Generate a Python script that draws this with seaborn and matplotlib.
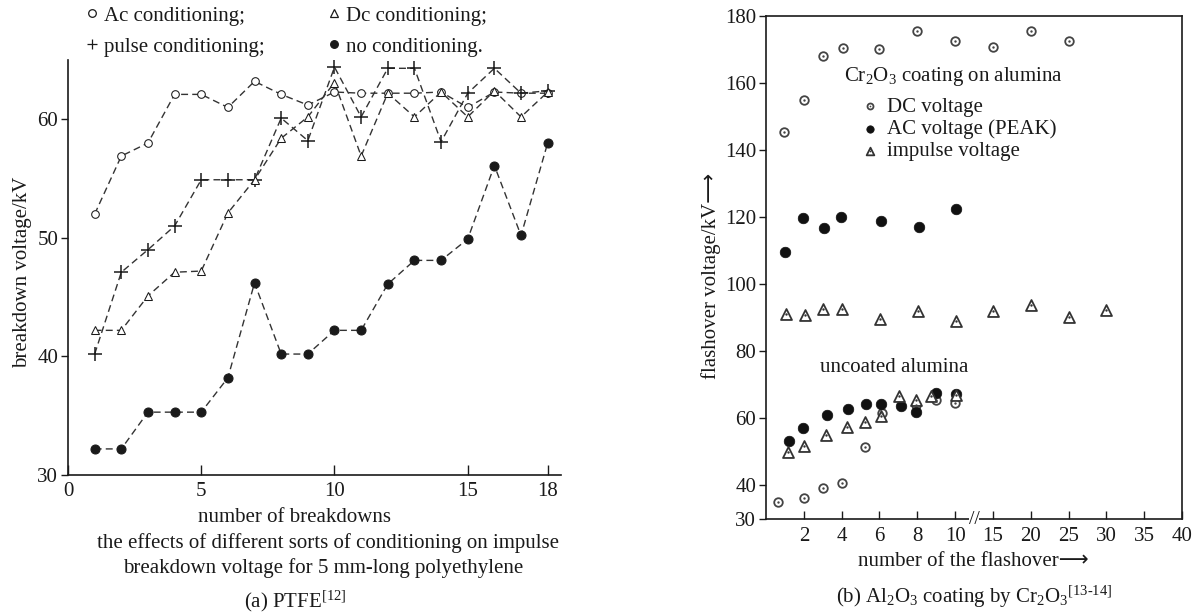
import matplotlib.pyplot as plt
import numpy as np
import seaborn as sns
from matplotlib.legend_handler import HandlerTuple

sns.set_theme(style="ticks")
plt.rcParams["font.family"] = ["Liberation Serif", "DejaVu Sans"]
plt.rcParams["mathtext.fontset"] = "custom"
plt.rcParams["mathtext.rm"] = "Liberation Serif"
plt.rcParams["mathtext.it"] = "Liberation Serif:italic"
plt.rcParams["font.size"] = 15
plt.rcParams["text.color"] = "#1a1a1a"

# (a) PTFE, breakdown voltage vs number of breakdowns
breakdowns = list(range(1, 19))
ac_cond = [52.0, 56.9, 58.0, 62.1, 62.1, 61.0, 63.2, 62.1, 61.2,
           62.3, 62.2, 62.2, 62.2, 62.3, 61.0, 62.3, 62.2, 62.2]
dc_cond = [42.2, 42.2, 45.1, 47.1, 47.2, 52.1, 54.9, 58.4, 60.2,
           63.1, 56.9, 62.2, 60.2, 62.3, 60.2, 62.4, 60.2, 62.3]
pulse_cond = [40.2, 47.1, 49.0, 51.0, 54.9, 54.9, 54.9, 60.1, 58.2,
              64.4, 60.2, 64.3, 64.3, 58.1, 62.2, 64.3, 62.2, 62.4]
no_cond = [32.2, 32.2, 35.3, 35.3, 35.3, 38.2, 46.2, 40.2, 40.2,
           42.2, 42.2, 46.1, 48.1, 48.1, 49.9, 56.1, 50.2, 58.0]
left_xticks = [0, 5, 10, 15, 18]
left_yticks = [30, 40, 50, 60]

# (b) Al2O3 coated by Cr2O3, flashover voltage vs number of flashovers
coated_dc_x = [0.95, 2.0, 3.0, 4.05, 6.0, 8.0, 10.05, 15, 20, 25]
coated_dc_kv = [145.3, 155.0, 168.2, 170.5, 170.2, 175.4, 172.5, 170.8, 175.5, 172.4]
coated_ac_x = [1.0, 1.95, 3.05, 3.95, 6.1, 8.1, 10.1]
coated_ac_kv = [109.7, 119.7, 116.7, 120.1, 119.0, 117.1, 122.3]
coated_imp_x = [1.05, 2.05, 3.0, 4.0, 6.05, 8.05, 10.1, 15, 20, 25, 30]
coated_imp_kv = [91.0, 90.8, 92.7, 92.6, 89.7, 92.0, 88.9, 91.9, 93.9, 90.1, 92.2]
uncoated_dc_x = [0.65, 2.0, 3.0, 4.0, 5.25, 6.15, 7.95, 9.0, 10.0]
uncoated_dc_kv = [35.1, 36.3, 39.1, 40.7, 51.4, 61.7, 64.0, 65.6, 64.5]
uncoated_ac_x = [1.2, 1.95, 3.2, 4.35, 5.3, 6.1, 7.15, 7.95, 9.0, 10.1]
uncoated_ac_kv = [53.4, 57.1, 60.9, 62.7, 64.2, 64.2, 63.8, 62.0, 67.5, 67.4]
uncoated_imp_x = [1.15, 2.0, 3.15, 4.3, 5.25, 6.1, 7.05, 7.95, 8.75, 10.15]
uncoated_imp_kv = [50.1, 51.9, 55.0, 57.5, 58.9, 60.8, 66.7, 65.4, 66.7, 67.0]
right_xticks = [2, 4, 6, 8, 10, 15, 20, 25, 30, 35, 40]
right_yticks = [30, 40, 60, 80, 100, 120, 140, 160, 180]

W, H = 1199, 615
INK = "#1a1a1a"
DASH = (0, (5, 3))


def fx(px):
    return px / W


def fy(py):
    return 1 - py / H


def broken_fwd(x):
    x = np.asarray(x, dtype=float)
    return np.where(x <= 10, x, 10 + (x - 10) * 0.4)


def broken_inv(p):
    p = np.asarray(p, dtype=float)
    return np.where(p <= 10, p, 10 + (p - 10) * 2.5)


fig = plt.figure(figsize=(W / 100, H / 100), dpi=100)

# ---------------- left panel ----------------
ax1 = fig.add_axes([fx(68), fy(475), fx(561 - 68), (475 - 60) / H])

series = [
    ("Ac conditioning;", ac_cond, dict(marker="o", markersize=5.5, markerfacecolor="white")),
    ("pulse conditioning;", pulse_cond, dict(marker="+", markersize=10, markeredgewidth=1.1)),
    ("Dc conditioning;", dc_cond, dict(marker="^", markersize=5.5, markerfacecolor="white")),
    ("no conditioning.", no_cond, dict(marker="o", markersize=6.5, markerfacecolor=INK)),
]
for label, vals, mk in series:
    sns.lineplot(x=breakdowns, y=vals, ax=ax1, color="#333333", linestyle=DASH,
                 linewidth=1.0, markeredgecolor=INK, label=label, **mk)

ax1.set_xlim(0, 18.5)
ax1.set_ylim(30, 65)
ax1.set_xticks(left_xticks)
ax1.set_yticks(left_yticks)
ax1.tick_params(axis="x", direction="in", length=7, width=1, pad=5, labelsize=15, colors=INK)
ax1.tick_params(axis="y", direction="out", length=5, width=1, pad=2, labelsize=15, colors=INK)
for side in ["top", "right"]:
    ax1.spines[side].set_visible(False)
for side in ["left", "bottom"]:
    ax1.spines[side].set_color(INK)
    ax1.spines[side].set_linewidth(1.2)
ax1.set_xlabel("")
ax1.set_ylabel("")

leg1 = ax1.legend(loc="upper left", bbox_to_anchor=(fx(92), fy(6)),
                  bbox_transform=fig.transFigure, ncol=2, frameon=False,
                  handlelength=0, handletextpad=0.6, numpoints=1,
                  borderpad=0, borderaxespad=0, labelspacing=0.55,
                  columnspacing=3.3, fontsize=15)
for h in leg1.legend_handles:
    h.set_markersize(6.5 if h.get_marker() == "+" else 5.5)
    h.set_markeredgewidth(0.9)

fig.text(fx(23), fy(272), "breakdown voltage/kV", rotation=90, ha="center", va="center")
fig.text(fx(295), fy(517), "number of breakdowns", ha="center", va="center")
fig.text(fx(328), fy(543), "the effects of different sorts of conditioning on impulse",
         ha="center", va="center")
fig.text(fx(323), fy(568), "breakdown voltage for 5 mm-long polyethylene",
         ha="center", va="center")
fig.text(fx(295), fy(601), r"(a) PTFE$^{[12]}$", ha="center", va="center")

# ---------------- right panel ----------------
ax2 = fig.add_axes([fx(766), fy(519), fx(416), 503 / H])
ax2.set_xscale("function", functions=(broken_fwd, broken_inv))

dc_x = coated_dc_x + uncoated_dc_x
dc_kv = coated_dc_kv + uncoated_dc_kv
ac_x = coated_ac_x + uncoated_ac_x
ac_kv = coated_ac_kv + uncoated_ac_kv
imp_x = coated_imp_x + uncoated_imp_x
imp_kv = coated_imp_kv + uncoated_imp_kv

sns.scatterplot(x=dc_x, y=dc_kv, ax=ax2, marker="o", s=38, color="white",
                edgecolor="#444444", linewidth=1.3, zorder=3)
dc_ring = ax2.collections[-1]
sns.scatterplot(x=dc_x, y=dc_kv, ax=ax2, marker="o", s=3, color="#444444",
                edgecolor="#444444", linewidth=0, zorder=4)
dc_dot = ax2.collections[-1]
sns.scatterplot(x=ac_x, y=ac_kv, ax=ax2, marker="o", s=58, color="#111111",
                edgecolor="#111111", linewidth=0.5, zorder=3)
ac_pt = ax2.collections[-1]
sns.scatterplot(x=imp_x, y=imp_kv, ax=ax2, marker="^", s=62, color="white",
                edgecolor="#333333", linewidth=1.3, zorder=3)
imp_tri = ax2.collections[-1]
sns.scatterplot(x=imp_x, y=imp_kv, ax=ax2, marker="o", s=3, color="#333333",
                edgecolor="#333333", linewidth=0, zorder=4)
imp_dot = ax2.collections[-1]

ax2.set_xlim(0, 40)
ax2.set_ylim(30, 180)
ax2.set_xticks(right_xticks)
ax2.set_yticks(right_yticks)
ax2.tick_params(axis="x", direction="in", length=6, width=1, pad=6, labelsize=15, colors=INK)
ax2.tick_params(axis="y", direction="out", length=5, width=1, pad=2, labelsize=15, colors=INK)
for side in ax2.spines:
    ax2.spines[side].set_color(INK)
    ax2.spines[side].set_linewidth(1.2)
ax2.set_xlabel("")
ax2.set_ylabel("")

# axis break mark between 10 and 15
ax2.text(12.5, 30, "//", ha="center", va="center", fontsize=14, color=INK, zorder=5,
         clip_on=False, bbox=dict(facecolor="white", edgecolor="none", pad=0))

ax2.text((953 - 766) / 416, 1 - (77 - 16) / 503, r"Cr$_2$O$_3$ coating on alumina",
         transform=ax2.transAxes, ha="center", va="center")
ax2.text((894 - 766) / 416, 1 - (367 - 16) / 503, "uncoated alumina",
         transform=ax2.transAxes, ha="center", va="center")

ax2.legend([(dc_ring, dc_dot), ac_pt, (imp_tri, imp_dot)],
           ["DC voltage", "AC voltage (PEAK)", "impulse voltage"],
           handler_map={tuple: HandlerTuple(ndivide=1)},
           loc="upper left", bbox_to_anchor=((864 - 766) / 416, 1 - (97 - 16) / 503),
           frameon=False, handlelength=0.6, handletextpad=0.5, markerscale=0.7,
           borderpad=0, borderaxespad=0, labelspacing=0.13, fontsize=15)

fig.text(fx(711), fy(276), "flashover voltage/kV\u27f6", rotation=90, ha="center", va="center")
fig.text(fx(973), fy(562), "number of the flashover\u27f6", ha="center", va="center")
fig.text(fx(974), fy(597),
         r"(b) Al$_2$O$_3$ coating by Cr$_2$O$_3$$^{[13\text{-}14]}$",
         ha="center", va="center")

fig.savefig("out.png", dpi=100)
plt.close(fig)
